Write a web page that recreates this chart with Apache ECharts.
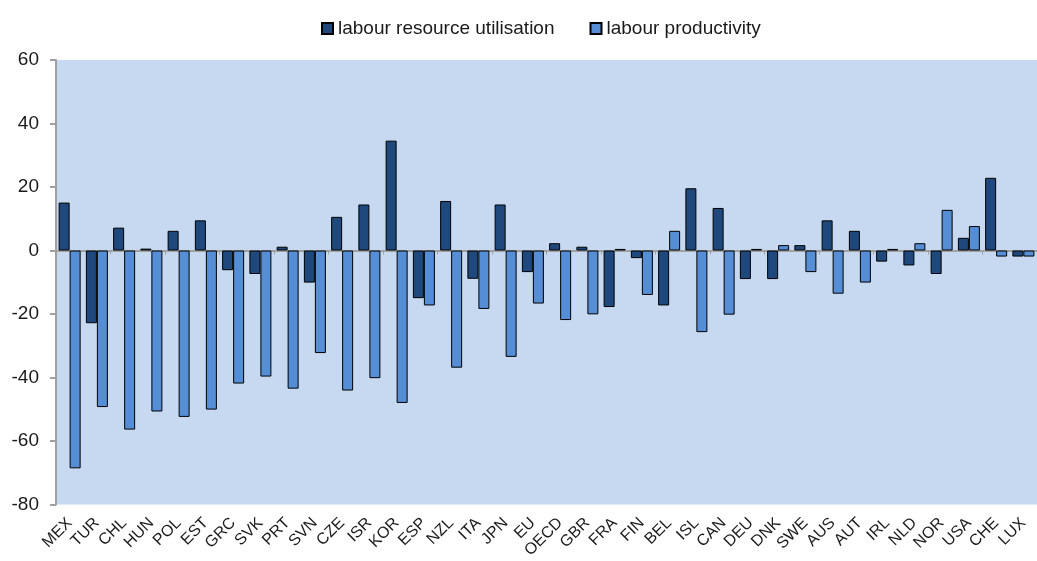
<!DOCTYPE html>
<html>
<head>
<meta charset="utf-8">
<script src="https://cdn.jsdelivr.net/npm/echarts@6/dist/echarts.min.js"></script>
<style>
  html, body { margin: 0; padding: 0; background: #fff; }
  #chart { width: 1037px; height: 561px; }
</style>
</head>
<body>
<div id="chart"></div>
<script>
// countries, in the order of the chart
const countries = ['MEX', 'TUR', 'CHL', 'HUN', 'POL', 'EST', 'GRC', 'SVK', 'PRT', 'SVN',
  'CZE', 'ISR', 'KOR', 'ESP', 'NZL', 'ITA', 'JPN', 'EU', 'OECD', 'GBR', 'FRA', 'FIN',
  'BEL', 'ISL', 'CAN', 'DEU', 'DNK', 'SWE', 'AUS', 'AUT', 'IRL', 'NLD', 'NOR', 'USA',
  'CHE', 'LUX'];

// labour resource utilisation
const utilisation = [15.1, -22.9, 7.2, 0.6, 6.2, 9.5, -6.2, -7.4, 1.2, -10.1,
  10.6, 14.5, 34.6, -15.0, 15.6, -8.9, 14.5, -6.8, 2.3, 1.2, -17.8, -2.4,
  -17.3, 19.6, 13.4, -9.0, -9.0, 1.7, 9.5, 6.2, -3.5, -4.7, -7.4, 4.0,
  22.9, -1.9];

// labour productivity
const productivity = [-68.6, -49.3, -56.4, -50.7, -52.4, -50.1, -41.9, -39.7, -43.5, -32.3,
  -44.1, -40.2, -48.0, -17.3, -36.9, -18.4, -33.5, -16.7, -21.9, -20.1, 0.5, -14.0,
  6.2, -25.7, -20.2, 0.5, 1.7, -6.8, -13.6, -10.1, 0.5, 2.3, 12.8, 7.7,
  -1.9, -1.9];

const yTicks = { min: -80, max: 60, step: 20 };

const axisGray = '#a0a0a0';
const textColor = '#1a1a1a';

let myChart = echarts.init(document.getElementById('chart'));
let option = {
  animation: false,
  color: ['#1f497d', '#558ed5'],
  legend: {
    left: 316,
    top: 14,
    icon: 'rect',
    itemWidth: 11,
    itemHeight: 11,
    itemGap: 35,
    textStyle: { fontFamily: 'Liberation Sans', fontSize: 19, color: textColor },
    data: ['labour resource utilisation', 'labour productivity'],
  },
  grid: {
    left: 56,
    top: 60,
    width: 990,
    height: 445,
    show: true,
    backgroundColor: '#c6d9f0',
    borderWidth: 0,
  },
  xAxis: [
    {
      type: 'category',
      data: countries,
      position: 'bottom',
      axisLine: { show: false, onZero: false },
      axisTick: { show: false },
      axisLabel: {
        interval: 0,
        rotate: 45,
        margin: 16,
        fontFamily: 'Liberation Sans',
        fontSize: 16,
        color: textColor,
      },
    },
    {
      // the zero line with its small ticks
      type: 'category',
      data: countries,
      position: 'bottom',
      axisLine: { show: true, onZero: true, lineStyle: { color: axisGray, width: 2 } },
      axisTick: { show: true, length: 4, inside: false, lineStyle: { color: axisGray } },
      axisLabel: { show: false },
    },
  ],
  yAxis: {
    type: 'value',
    min: yTicks.min,
    max: yTicks.max,
    interval: yTicks.step,
    splitLine: { show: false },
    axisLine: { show: true, lineStyle: { color: axisGray, width: 2 } },
    axisTick: { show: true, length: 6, lineStyle: { color: axisGray, width: 2 } },
    axisLabel: {
      margin: 17,
      fontFamily: 'Liberation Sans',
      fontSize: 19,
      color: textColor,
    },
  },
  series: [
    {
      name: 'labour resource utilisation',
      type: 'bar',
      data: utilisation,
      barWidth: 11,
      barGap: '0%',
      itemStyle: { borderColor: '#000', borderWidth: 1 },
    },
    {
      name: 'labour productivity',
      type: 'bar',
      data: productivity,
      barWidth: 11,
      barGap: '0%',
      itemStyle: { borderColor: '#000', borderWidth: 1 },
    },
  ],
};
myChart.setOption(option);
</script>
</body>
</html>
